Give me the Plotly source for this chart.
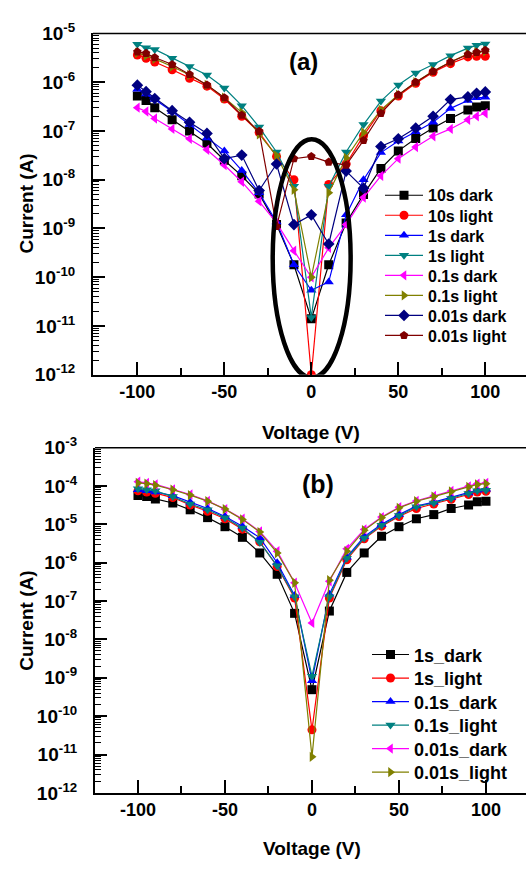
import plotly.graph_objects as go

# ---------------- data ----------------
voltage = [-100, -95, -90, -80, -70, -60, -50, -40, -30, -20, -10, 0,
           10, 20, 30, 40, 50, 60, 70, 80, 90, 95, 100]

a_names = ["10s dark", "10s light", "1s dark", "1s light",
           "0.1s dark", "0.1s light", "0.01s dark", "0.01s light"]
a_10s_dark = [5.2e-7, 4.2e-7, 3.0e-7, 1.7e-7, 1.0e-7, 5.6e-8, 2.5e-8, 1.2e-8, 5.1e-9, 1.2e-9, 1.8e-10, 1.4e-11,
              1.8e-10, 1.3e-9, 5.0e-9, 1.7e-8, 3.9e-8, 7.0e-8, 1.15e-7, 1.8e-7, 2.7e-7, 3.1e-7, 3.3e-7]
a_10s_light = [3.6e-6, 3.1e-6, 2.6e-6, 1.8e-6, 1.2e-6, 8.3e-7, 4.5e-7, 2.0e-7, 9.3e-8, 3.0e-8, 1.0e-8, 1.0e-12,
               8.0e-9, 2.1e-8, 8.0e-8, 2.6e-7, 5.2e-7, 9.5e-7, 1.6e-6, 2.4e-6, 3.3e-6, 3.4e-6, 3.4e-6]
a_1s_dark = [7.2e-7, 5.7e-7, 4.4e-7, 2.5e-7, 1.35e-7, 7.2e-8, 3.9e-8, 1.55e-8, 5.4e-9, 1.35e-9, 1.8e-10, 5.4e-11,
             8.0e-11, 1.9e-9, 1.0e-8, 3.6e-8, 6.2e-8, 9.6e-8, 1.5e-7, 2.9e-7, 4.2e-7, 4.8e-7, 4.9e-7]
a_1s_light = [6.0e-6, 5.1e-6, 4.7e-6, 3.1e-6, 2.1e-6, 1.4e-6, 7.6e-7, 3.3e-7, 1.2e-7, 3.7e-8, 7.3e-9, 1.5e-11,
              7.3e-9, 3.7e-8, 1.35e-7, 4.1e-7, 8.8e-7, 1.55e-6, 2.3e-6, 3.5e-6, 5.0e-6, 5.7e-6, 6.1e-6]
a_01s_dark = [3.0e-7, 2.5e-7, 1.8e-7, 1.1e-7, 6.9e-8, 4.1e-8, 2.0e-8, 9.1e-9, 3.6e-9, 1.3e-9, 3.5e-10, 1.0e-10,
              4.0e-10, 1.2e-9, 4.3e-9, 1.2e-8, 2.7e-8, 4.7e-8, 7.8e-8, 1.1e-7, 1.7e-7, 2.0e-7, 2.3e-7]
a_01s_light = [4.0e-6, 3.5e-6, 3.0e-6, 2.1e-6, 1.4e-6, 8.8e-7, 4.8e-7, 2.4e-7, 8.5e-8, 3.1e-8, 6.2e-9, 1.0e-10,
               5.4e-9, 2.8e-8, 9.3e-8, 2.7e-7, 5.5e-7, 1.0e-6, 1.7e-6, 2.6e-6, 3.8e-6, 4.1e-6, 4.3e-6]
a_001s_dark = [8.7e-7, 6.4e-7, 4.6e-7, 2.6e-7, 1.5e-7, 8.9e-8, 2.7e-8, 3.2e-8, 6.0e-9, 2.1e-8, 1.2e-9, 1.9e-9,
               4.8e-10, 1.5e-8, 6.7e-9, 4.8e-8, 6.9e-8, 1.15e-7, 2.0e-7, 4.4e-7, 5.0e-7, 5.9e-7, 6.3e-7]
a_001s_light = [4.2e-6, 3.9e-6, 3.2e-6, 2.3e-6, 1.44e-6, 8.8e-7, 4.8e-7, 2.1e-7, 9.8e-8, 1.1e-9, 2.7e-8, 3.0e-8,
                2.3e-8, 2.0e-8, 6.4e-8, 2.3e-7, 5.5e-7, 1.0e-6, 1.66e-6, 2.6e-6, 3.7e-6, 4.1e-6, 4.5e-6]

b_names = ["1s_dark", "1s_light", "0.1s_dark", "0.1s_light", "0.01s_dark", "0.01s_light"]
b_1s_dark = [5.7e-5, 5.3e-5, 4.6e-5, 3.6e-5, 2.4e-5, 1.5e-5, 8.7e-6, 4.6e-6, 1.8e-6, 5.0e-7, 4.8e-8, 4.9e-10,
             5.5e-8, 5.6e-7, 1.8e-6, 4.9e-6, 8.7e-6, 1.4e-5, 1.8e-5, 2.6e-5, 3.2e-5, 3.9e-5, 4.0e-5]
b_1s_light = [7.5e-5, 7.0e-5, 6.5e-5, 5.0e-5, 3.2e-5, 2.2e-5, 1.4e-5, 7.5e-6, 3.5e-6, 8.0e-7, 1.2e-7, 4.4e-11,
              1.2e-7, 1.2e-6, 4.2e-6, 9.0e-6, 1.6e-5, 2.6e-5, 3.4e-5, 4.5e-5, 6.0e-5, 7.0e-5, 7.3e-5]
b_01s_dark = [8.0e-5, 7.5e-5, 7.0e-5, 5.6e-5, 3.8e-5, 2.6e-5, 1.6e-5, 9.0e-6, 4.5e-6, 1.0e-6, 1.4e-7, 8.4e-10,
              1.5e-7, 1.4e-6, 4.8e-6, 1.0e-5, 1.8e-5, 3.0e-5, 3.8e-5, 5.0e-5, 6.6e-5, 7.8e-5, 8.2e-5]
b_01s_light = [8.5e-5, 8.0e-5, 7.5e-5, 5.3e-5, 3.4e-5, 2.4e-5, 1.5e-5, 8.0e-6, 3.4e-6, 8.3e-7, 1.3e-7, 1.1e-9,
               1.3e-7, 1.3e-6, 4.4e-6, 9.5e-6, 1.7e-5, 2.9e-5, 3.6e-5, 4.7e-5, 6.4e-5, 7.5e-5, 7.8e-5]
b_001s_dark = [1.3e-4, 1.2e-4, 1.1e-4, 8.2e-5, 6.0e-5, 4.1e-5, 2.5e-5, 1.4e-5, 6.5e-6, 2.0e-6, 3.0e-7, 2.7e-8,
               3.3e-7, 2.3e-6, 7.4e-6, 1.55e-5, 2.8e-5, 4.1e-5, 5.5e-5, 7.4e-5, 9.8e-5, 1.15e-4, 1.2e-4]
b_001s_light = [1.2e-4, 1.15e-4, 1.05e-4, 8.0e-5, 5.8e-5, 4.0e-5, 2.5e-5, 1.35e-5, 6.3e-6, 1.8e-6, 3.0e-7, 8.7e-12,
                3.5e-7, 2.0e-6, 7.0e-6, 1.5e-5, 2.7e-5, 4.0e-5, 5.3e-5, 7.2e-5, 9.5e-5, 1.1e-4, 1.15e-4]

xtick_vals = [-100, -50, 0, 50, 100]
ytick_a = list(range(-12, -4))
ytick_b = list(range(-12, -2))

# ---------------- styles ----------------
a_series = [a_10s_dark, a_10s_light, a_1s_dark, a_1s_light, a_01s_dark, a_01s_light, a_001s_dark, a_001s_light]
a_colors = ["#000000", "#FF0000", "#0000FF", "#008080", "#FF00FF", "#808000", "#000080", "#800000"]
a_symbols = ["square", "circle", "triangle-up", "triangle-down", "triangle-left", "triangle-right", "diamond", "pentagon"]

b_series = [b_1s_dark, b_1s_light, b_01s_dark, b_01s_light, b_001s_dark, b_001s_light]
b_colors = ["#000000", "#FF0000", "#0000FF", "#008080", "#FF00FF", "#808000"]
b_symbols = ["square", "circle", "triangle-up", "triangle-down", "triangle-left", "triangle-right"]

W, H = 526, 870
FONT = "Liberation Sans"


def px_x(p):
    return p / W


def px_y(p):
    return 1 - p / H


fig = go.Figure()
legend_layouts = {}
k = 0
for i, (name, ys, c, s) in enumerate(zip(a_names, a_series, a_colors, a_symbols)):
    k += 1
    lname = "legend" if k == 1 else "legend%d" % k
    fig.add_trace(go.Scatter(x=voltage, y=ys, name=name, mode="lines+markers",
                             line=dict(color=c, width=1.2),
                             marker=dict(symbol=s, size=9, color=c),
                             xaxis="x", yaxis="y", legend=lname))
    legend_layouts[lname] = dict(x=px_x(380), y=px_y(187.5 + 20.6 * i), xanchor="left", yanchor="middle",
                                 bgcolor="rgba(0,0,0,0)", borderwidth=0, itemwidth=38,
                                 font=dict(family=FONT, size=16, color="black", weight="bold"))
for i, (name, ys, c, s) in enumerate(zip(b_names, b_series, b_colors, b_symbols)):
    k += 1
    lname = "legend%d" % k
    fig.add_trace(go.Scatter(x=voltage, y=ys, name=name, mode="lines+markers",
                             line=dict(color=c, width=1.2),
                             marker=dict(symbol=s, size=9, color=c),
                             xaxis="x2", yaxis="y2", legend=lname))
    legend_layouts[lname] = dict(x=px_x(367), y=px_y(660 + 24.2 * i), xanchor="left", yanchor="middle",
                                 bgcolor="rgba(0,0,0,0)", borderwidth=0, itemwidth=37,
                                 font=dict(family=FONT, size=18, color="black", weight="bold"))

tickfont = dict(family=FONT, size=18, color="black", weight="bold")
ytickfont = dict(family=FONT, size=19, color="black", weight="bold")


def xaxis_def(domain, rng, anchor):
    return dict(domain=domain, range=rng, anchor=anchor, showgrid=False, zeroline=False,
                showline=True, linecolor="black", linewidth=2,
                ticks="inside", ticklen=13, tickwidth=1.5, tickcolor="black",
                tickvals=xtick_vals, ticktext=[str(v) for v in xtick_vals],
                tickfont=tickfont,
                minor=dict(ticks="inside", ticklen=7, tickwidth=1.5, tickcolor="black", dtick=25, tick0=0))


def yaxis_def(domain, exps, anchor):
    return dict(domain=domain, type="log", range=[exps[0], exps[-1]], anchor=anchor,
                showgrid=False, zeroline=False, showline=True, linecolor="black", linewidth=2,
                ticks="inside", ticklen=12, tickwidth=1.5, tickcolor="black",
                tickvals=[10.0 ** e for e in exps],
                ticktext=["10<sup>%d</sup>" % e for e in exps],
                tickfont=ytickfont, ticklabelstandoff=12,
                minor=dict(ticks="inside", ticklen=6, tickwidth=1, tickcolor="black", dtick="D1"))


fig.update_layout(
    width=W, height=H, margin=dict(l=0, r=0, t=0, b=0),
    paper_bgcolor="white", plot_bgcolor="white",
    font=dict(family=FONT, color="black"),
    xaxis=xaxis_def([px_x(93), 1.0], [-125.5, 123.4], "y"),
    yaxis=yaxis_def([px_y(372), px_y(21)], ytick_a, "x"),
    xaxis2=xaxis_def([px_x(95), 1.0], [-124.7, 123.0], "y2"),
    yaxis2=yaxis_def([px_y(802), px_y(447)], ytick_b, "x2"),
    showlegend=True,
    **legend_layouts,
)

# top frame lines
fig.add_shape(type="line", xref="paper", yref="paper", x0=px_x(93), x1=1.0,
              y0=px_y(21), y1=px_y(21), line=dict(color="black", width=1.5))
fig.add_shape(type="line", xref="paper", yref="paper", x0=px_x(95), x1=1.0,
              y0=px_y(447), y1=px_y(447), line=dict(color="black", width=1.5))

# ellipse highlighting the low-voltage region in (a)
fig.add_shape(type="circle", xref="x", yref="y", x0=-22.2, x1=22.6,
              y0=10 ** -12.06, y1=10 ** -7.17, line=dict(color="black", width=4.5))

titlefont = dict(family=FONT, size=19, color="black", weight="bold")
annos = [
    dict(text="Voltage (V)", x=px_x(311), y=px_y(431)),
    dict(text="Voltage (V)", x=px_x(312), y=px_y(859)),
    dict(text="Current (A)", x=px_x(27), y=px_y(196), textangle=-90),
    dict(text="Current (A)", x=px_x(27), y=px_y(625), textangle=-90),
]
for a in annos:
    fig.add_annotation(xref="paper", yref="paper", showarrow=False, font=titlefont,
                       xanchor="center", yanchor="middle", **a)
fig.add_annotation(xref="paper", yref="paper", showarrow=False, text="(a)",
                   x=px_x(303), y=px_y(50), xanchor="center", yanchor="middle",
                   font=dict(family=FONT, size=24, color="black", weight="bold"))
fig.add_annotation(xref="paper", yref="paper", showarrow=False, text="(b)",
                   x=px_x(318), y=px_y(484), xanchor="center", yanchor="middle",
                   font=dict(family=FONT, size=25, color="black", weight="bold"))

fig.write_html("out.html")
